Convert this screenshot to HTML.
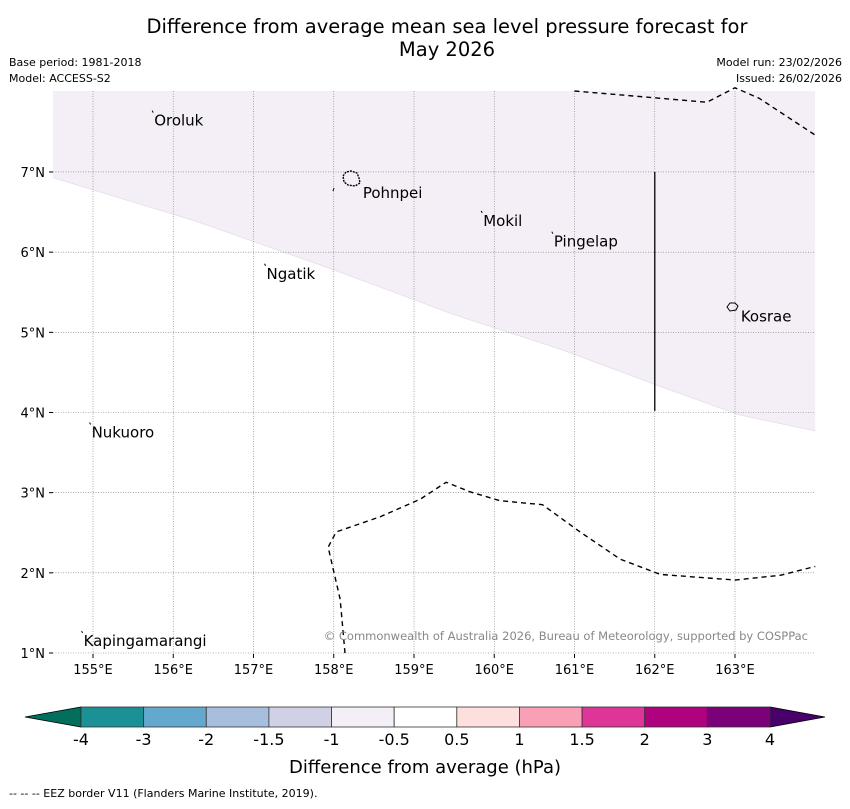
<!DOCTYPE html>
<html><head><meta charset="utf-8"><style>
body{margin:0;background:#fff;width:850px;height:804px;overflow:hidden;font-family:"Liberation Sans","DejaVu Sans",sans-serif;}
</style></head><body>
<svg width="850" height="804" xmlns="http://www.w3.org/2000/svg" font-family="DejaVu Sans, Liberation Sans, sans-serif">
<text x="447" y="33" font-size="19.5" text-anchor="middle">Difference from average mean sea level pressure forecast for</text>
<text x="447" y="56" font-size="19.5" text-anchor="middle">May 2026</text>
<text x="9" y="66" font-size="11">Base period: 1981-2018</text>
<text x="9" y="82" font-size="11">Model: ACCESS-S2</text>
<text x="842" y="66" font-size="11" text-anchor="end">Model run: 23/02/2026</text>
<text x="842" y="82" font-size="11" text-anchor="end">Issued: 26/02/2026</text>
<g id="map"></g>
<g id="cbar"></g>
<text x="425" y="773" font-size="18" text-anchor="middle">Difference from average (hPa)</text>
<text x="9" y="797" font-size="11">--  --  -- EEZ border V11 (Flanders Marine Institute, 2019).</text>
</svg>
<script>
const lonTicks=[155,156,157,158,159,160,161,162,163];
const latTicks=[1,2,3,4,5,6,7];
const places=["Oroluk","Pohnpei","Mokil","Pingelap","Ngatik","Kosrae","Nukuoro","Kapingamarangi"];
const placeLon=[155.75,158.35,159.85,160.73,157.15,163.06,154.97,154.87];
const placeLat=[7.74,6.84,6.49,6.23,5.83,5.30,3.85,1.25];
const shadeLon=[154.5,156.3,158,159.5,160.85,162,163.05,164];
const shadeLat=[6.93,6.38,5.78,5.22,4.78,4.35,3.97,3.77];
const eezTopLon=[161,162.65,163,163.3,164];
const eezTopLat=[8.01,7.87,8.05,7.92,7.46];
const eezBotLon=[158.14,158.08,157.93,158.03,158.58,159.08,159.4,159.7,160.07,160.6,161.07,161.57,162.07,163,163.57,164];
const eezBotLat=[1,1.67,2.32,2.51,2.7,2.92,3.13,3.01,2.9,2.85,2.51,2.17,1.98,1.91,1.97,2.08];
const cbTicks=["-4","-3","-2","-1.5","-1","-0.5","0.5","1","1.5","2","3","4"];
const cbColors=["#1b9095","#64a9cd","#a7bedc","#d1d1e5","#f4eef6","#ffffff","#fde0dd","#f9a0b6","#dd3598","#ae027e","#7a0177"];
const NS="http://www.w3.org/2000/svg";
const X0=53,X1=815,Y0=91,Y1=654;
const lx=l=>93+(l-155)*80.25;
const ly=l=>653-(l-1)*80.17;
function mk(p,t,a){const e=document.createElementNS(NS,t);for(const k in a)e.setAttribute(k,a[k]);p.appendChild(e);return e;}
const map=document.getElementById('map');
let d=`M${X0},${Y0} `+shadeLon.map((l,i)=>`L${lx(l)},${ly(shadeLat[i])}`).join(' ')+` L${X1},${Y0} Z`;
const sh=mk(map,'path',{d:d,fill:'#f4eef6',stroke:'none'});


const shb=mk(map,'polyline',{points:shadeLon.map((l,i)=>lx(l)+','+ly(shadeLat[i])).join(' '),fill:'none',stroke:'#e2d6ea','stroke-width':0.6});
lonTicks.forEach(l=>{const x=lx(l);
const g=mk(map,'line',{x1:x,x2:x,y1:Y0,y2:Y1,stroke:'#777','stroke-width':0.6,'stroke-dasharray':'1,1.5'});

mk(map,'line',{x1:x,x2:x,y1:Y1,y2:Y1+4,stroke:'#000'});
const t=mk(map,'text',{x:x,y:674,'font-size':13,'text-anchor':'middle'});t.textContent=l+'°E';
});
latTicks.forEach(l=>{const y=ly(l);
const g=mk(map,'line',{x1:X0,x2:X1,y1:y,y2:y,stroke:'#777','stroke-width':0.6,'stroke-dasharray':'1,1.5'});

mk(map,'line',{x1:X0-4,x2:X0,y1:y,y2:y,stroke:'#000'});
const t=mk(map,'text',{x:X0-8,y:y+5,'font-size':13,'text-anchor':'end'});t.textContent=l+'°N';
});
function poly(lo,la,name){const p=mk(map,'polyline',{points:lo.map((l,i)=>lx(l)+','+ly(la[i])).join(' '),fill:'none',stroke:'#000','stroke-width':1.4,'stroke-dasharray':'5,4'});
}
poly(eezTopLon,eezTopLat,'eez-border-north');
poly(eezBotLon,eezBotLat,'eez-border-south');
const vl=mk(map,'line',{x1:lx(162),x2:lx(162),y1:ly(7),y2:ly(4.02),stroke:'#222','stroke-width':1.5});

const isl=mk(map,'path',{d:`M343,176 l3,-4 l5,-1 l6,2 l2,5 l1,5 l-5,3 l-7,-1 l-4,-3 z`,fill:'none',stroke:'#000','stroke-width':1.4,'stroke-dasharray':'2,1'});

mk(map,'line',{x1:334,y1:188,x2:333,y2:191,stroke:'#000'});
const isl2=mk(map,'path',{d:`M727,307 l3,-4 l5,0 l3,3 l-2,4 l-6,1 z`,fill:'none',stroke:'#000','stroke-width':1});

places.forEach((n,i)=>{const x=lx(placeLon[i]),y=ly(placeLat[i]);
if(n!=="Pohnpei"&&n!=="Kosrae")mk(map,'line',{x1:x-1,y1:y-2,x2:x,y2:y,stroke:'#000'});
const t=mk(map,'text',{x:x+1,y:y+13,'font-size':15});t.textContent=n;
});
const cr=mk(map,'text',{x:808,y:640,'font-size':11.5,fill:'#888','text-anchor':'end'});cr.textContent='© Commonwealth of Australia 2026, Bureau of Meteorology, supported by COSPPac';

const cb=document.getElementById('cbar');
const cx0=81,cx1=770,cy=707,ch=20,w=(cx1-cx0)/cbColors.length;
const le=mk(cb,'polygon',{points:`${cx0},${cy} ${cx0},${cy+ch} 25,${cy+ch/2}`,fill:'#026e5c',stroke:'#000','stroke-width':0.8});

const re=mk(cb,'polygon',{points:`${cx1},${cy} ${cx1},${cy+ch} 825,${cy+ch/2}`,fill:'#49006a',stroke:'#000','stroke-width':0.8});

cbColors.forEach((c,i)=>{const r=mk(cb,'rect',{x:cx0+i*w,y:cy,width:w,height:ch,fill:c,stroke:'#333','stroke-width':0.8});
});
cbTicks.forEach((t,i)=>{const e=mk(cb,'text',{x:cx0+i*w,y:745,'font-size':16,'text-anchor':'middle'});e.textContent=t;
});
</script>
</body></html>
